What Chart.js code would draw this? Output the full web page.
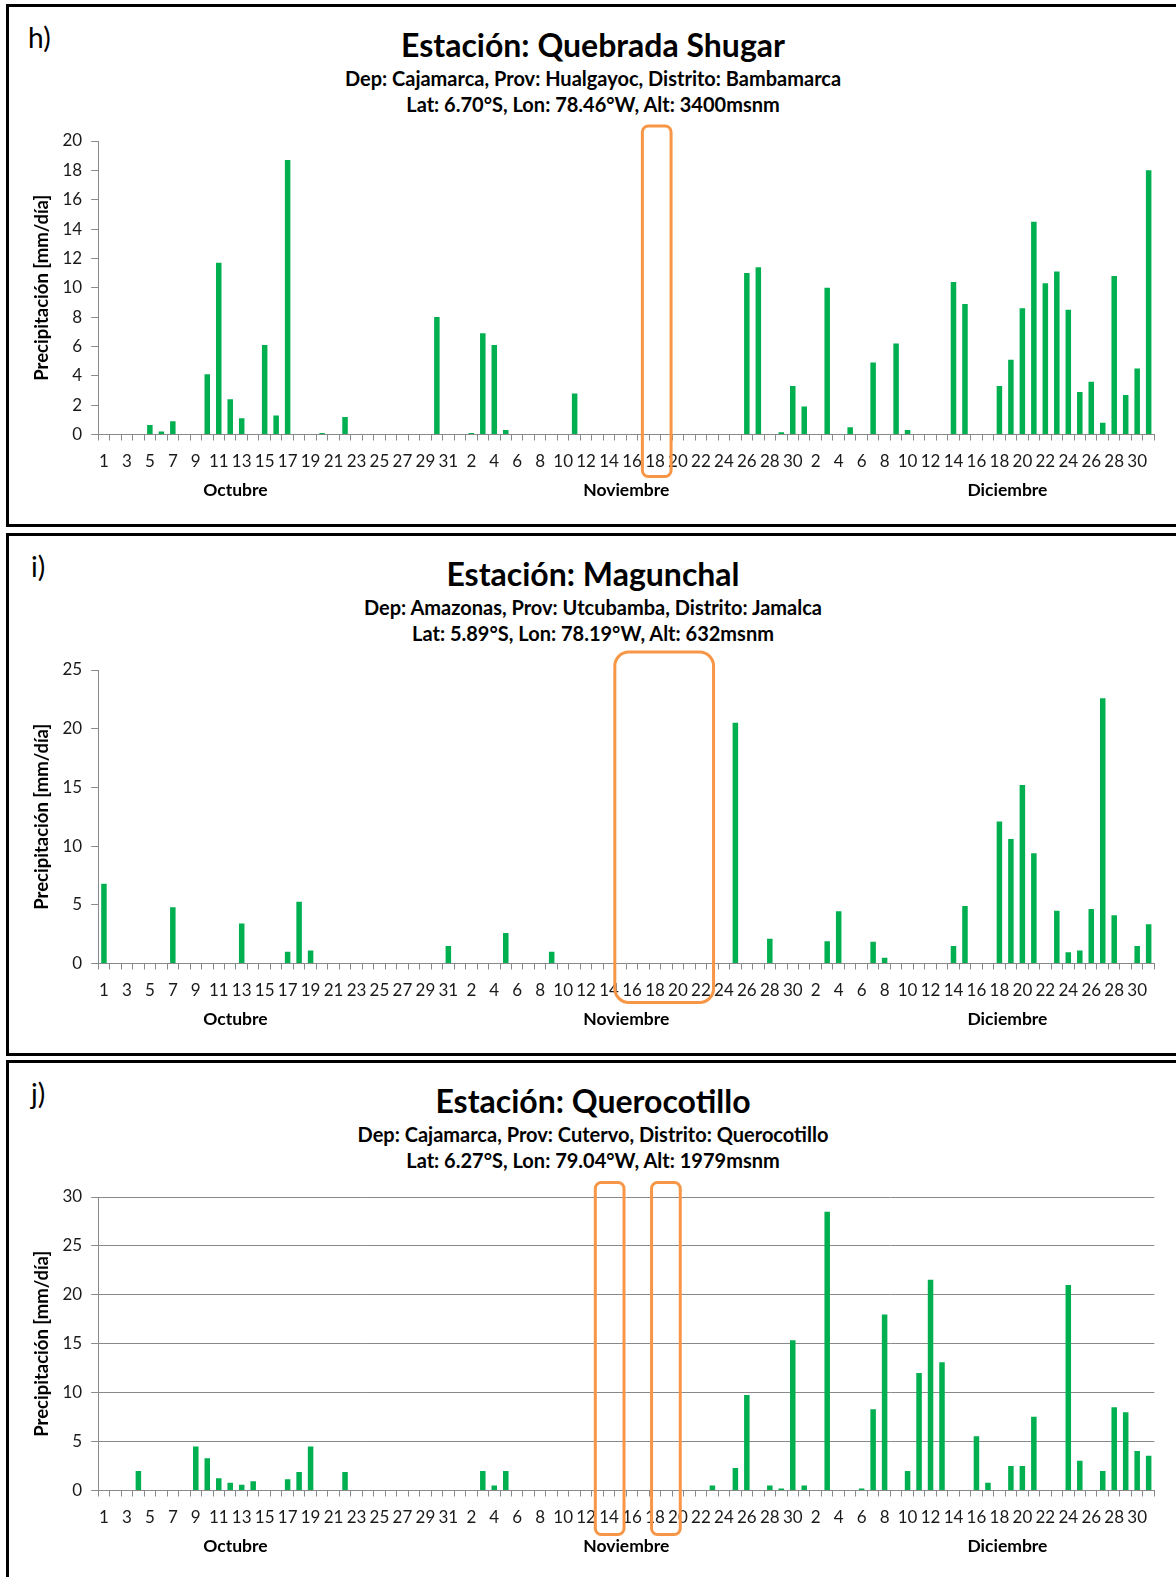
<!DOCTYPE html>
<html>
<head>
<meta charset="utf-8">
<script src="https://cdn.jsdelivr.net/npm/chart.js@4.4.1/dist/chart.umd.min.js"></script>
<style>
body { margin: 0; background: #fff; width: 1176px; height: 1577px; position: relative; overflow: hidden; font-family: Lato, sans-serif; }
.panel { position: absolute; left: 6px; width: 1200px; height: 517px; border: 3px solid #000; border-right: none; }
.panel canvas { position: absolute; left: 0; top: 0; }
.letter { position: absolute; left: 19px; top: 13px; height: 34px; line-height: 34px; font-size: 28px; }
.line { position: absolute; left: 0; width: 1168px; text-align: center; font-weight: bold; white-space: nowrap; }
.t { top: 17px; height: 42px; line-height: 42px; font-size: 32px; }
.s1 { top: 59px; height: 25px; line-height: 25px; font-size: 20px; }
.s2 { top: 85px; height: 25px; line-height: 25px; font-size: 20px; }
</style>
</head>
<body>

<div class="panel" style="top:4px">
  <div class="letter">h)</div>
  <div class="line t">Estación: Quebrada Shugar</div>
  <div class="line s1">Dep: Cajamarca, Prov: Hualgayoc, Distrito: Bambamarca</div>
  <div class="line s2">Lat: 6.70°S, Lon: 78.46°W, Alt: 3400msnm</div>
  <canvas id="chartH" width="1167" height="517"></canvas>
</div>

<div class="panel" style="top:533px">
  <div class="letter" style="left:22px">i)</div>
  <div class="line t">Estación: Magunchal</div>
  <div class="line s1">Dep: Amazonas, Prov: Utcubamba, Distrito: Jamalca</div>
  <div class="line s2">Lat: 5.89°S, Lon: 78.19°W, Alt: 632msnm</div>
  <canvas id="chartI" width="1167" height="517"></canvas>
</div>

<div class="panel" style="top:1060px; border-bottom:none">
  <div class="letter" style="left:22px">j)</div>
  <div class="line t">Estación: Querocotillo</div>
  <div class="line s1">Dep: Cajamarca, Prov: Cutervo, Distrito: Querocotillo</div>
  <div class="line s2">Lat: 6.27°S, Lon: 79.04°W, Alt: 1979msnm</div>
  <canvas id="chartJ" width="1167" height="517"></canvas>
</div>

<script>
// dias del periodo oct-dic
var octDays = [], novDays = [], decDays = [];
for (var d = 1; d <= 31; d++) octDays.push(String(d));
for (var d = 1; d <= 30; d++) novDays.push(String(d));
for (var d = 1; d <= 31; d++) decDays.push(String(d));
var days = octDays.concat(novDays, decDays);

var monthNames = ['Octubre', 'Noviembre', 'Diciembre'];

// Quebrada Shugar [mm/dia]
var shugarOct = [0,0,0,0,0.65,0.2,0.9,0,0,4.1, 11.7,2.4,1.1,0,6.1,1.3,18.7,0,0,0.1, 0,1.2,0,0,0,0,0,0,0,8.0,0];
var shugarNov = [0,0.1,6.9,6.1,0.3,0,0,0,0,0, 2.8,0,0,0,0,0,0,0,0,0, 0,0,0,0,0,11.0,11.4,0,0.15,3.3];
var shugarDec = [1.9,0,10.0,0,0.5,0,4.9,0,6.2,0.3, 0,0,0,10.4,8.9,0,0,3.3,5.1,8.6, 14.5,10.3,11.1,8.5,2.9,3.6,0.8,10.8,2.7,4.5,18.0];

// Magunchal
var magunchalOct = [6.8,0,0,0,0,0,4.8,0,0,0, 0,0,3.4,0,0,0,1.0,5.25,1.1,0, 0,0,0,0,0,0,0,0,0,0,1.5];
var magunchalNov = [0,0,0,0,2.6,0,0,0,1.0,0, 0,0,0,0,0,0,0,0,0,0, 0,0,0,0,20.5,0,0,2.1,0,0];
var magunchalDec = [0,0,1.9,4.45,0,0,1.85,0.5,0,0, 0,0,0,1.5,4.9,0,0,12.1,10.6,15.2, 9.4,0,4.5,0.95,1.1,4.65,22.6,4.1,0,1.5,3.35];

// Querocotillo
var queroOct = [0,0,0,2.0,0,0,0,0,4.5,3.3, 1.25,0.8,0.6,0.95,0,0,1.15,1.9,4.5,0, 0,1.9,0,0,0,0,0,0,0,0,0];
var queroNov = [0,0,2.0,0.5,2.0,0,0,0,0,0, 0,0,0,0,0,0,0,0,0,0, 0,0,0.5,0,2.3,9.75,0,0.5,0.2,15.35];
var queroDec = [0.5,0,28.5,0,0,0.2,8.3,18.0,0,2.0, 12.0,21.55,13.1,0,0,5.55,0.8,0,2.5,2.5, 7.55,0,0,21.0,3.05,0,2.0,8.5,8.0,4.05,3.55];

var GREEN = '#00b050';
var AXIS = '#898989';

// etiquetas de mes y recuadros naranjas
var extras = {
    id: 'extras',
    afterDraw: function (chart, args, opts) {
        var ctx = chart.ctx;
        var x = chart.scales.x;
        var area = chart.chartArea;
        ctx.save();
        ctx.font = 'bold 17.5px Lato';
        ctx.fillStyle = '#000';
        ctx.textAlign = 'center';
        ctx.textBaseline = 'middle';
        var centers = [11.45, 45.5, 78.7];
        monthNames.forEach(function (m, i) {
            ctx.fillText(m, x.getPixelForValue(centers[i]), area.bottom + 55.5);
        });
        ctx.strokeStyle = '#f79646';
        ctx.lineWidth = 3;
        opts.boxes.forEach(function (b) {
            var l = x.getPixelForValue(b.from);
            var r = x.getPixelForValue(b.to);
            var t = area.top + b.top;
            var btm = area.bottom + b.bottom;
            ctx.beginPath();
            ctx.roundRect(l, t, r - l, btm - t, b.r);
            ctx.stroke();
        });
        ctx.restore();
    }
};

function makeChart(id, values, yMax, yStep, showGrid, boxes) {
    return new Chart(document.getElementById(id), {
        type: 'bar',
        data: {
            labels: days,
            datasets: [{
                data: values,
                backgroundColor: GREEN,
                borderWidth: 0,
                barPercentage: 0.48,
                categoryPercentage: 1
            }]
        },
        options: {
            responsive: false,
            animation: false,
            layout: { padding: { top: 134, left: 0, right: 21.6, bottom: 0 } },
            plugins: {
                legend: { display: false },
                tooltip: { enabled: false },
                extras: { boxes: boxes }
            },
            scales: {
                x: {
                    offset: true,
                    afterFit: function (s) { s.height = 517 - 427.5; },
                    grid: { offset: true, drawOnChartArea: false, drawTicks: true, tickLength: 6, color: AXIS, tickColor: AXIS },
                    border: { color: AXIS, width: 1 },
                    ticks: {
                        autoSkip: false,
                        maxRotation: 0,
                        padding: 11,
                        color: '#1a1a1a',
                        font: { family: 'Lato', size: 17 },
                        callback: function (v, i) { return i % 2 === 0 ? days[i] : ''; }
                    }
                },
                y: {
                    min: 0,
                    max: yMax,
                    afterFit: function (s) { s.width = 89.2; },
                    grid: { drawOnChartArea: showGrid, drawTicks: true, tickLength: 7, color: AXIS, tickColor: AXIS },
                    border: { color: AXIS, width: 1 },
                    ticks: {
                        stepSize: yStep,
                        padding: 9,
                        color: '#1a1a1a',
                        font: { family: 'Lato', size: 17 }
                    },
                    title: {
                        display: true,
                        text: 'Precipitación [mm/día]',
                        color: '#000',
                        padding: { top: 22, bottom: 0 },
                        font: { family: 'Lato', size: 18.5, weight: 'bold' }
                    }
                }
            }
        },
        plugins: [extras]
    });
}

makeChart('chartH', shugarOct.concat(shugarNov, shugarDec), 20, 2, false,
    [{ from: 46.9, to: 49.4, top: -15, bottom: 42, r: 6 }]);
makeChart('chartI', magunchalOct.concat(magunchalNov, magunchalDec), 25, 5, false,
    [{ from: 44.5, to: 53.1, top: -18, bottom: 39, r: 14 }]);
makeChart('chartJ', queroOct.concat(queroNov, queroDec), 30, 5, true,
    [{ from: 42.8, to: 45.3, top: -14.5, bottom: 44, r: 6 },
     { from: 47.7, to: 50.2, top: -14.5, bottom: 44, r: 6 }]);
</script>
</body>
</html>
